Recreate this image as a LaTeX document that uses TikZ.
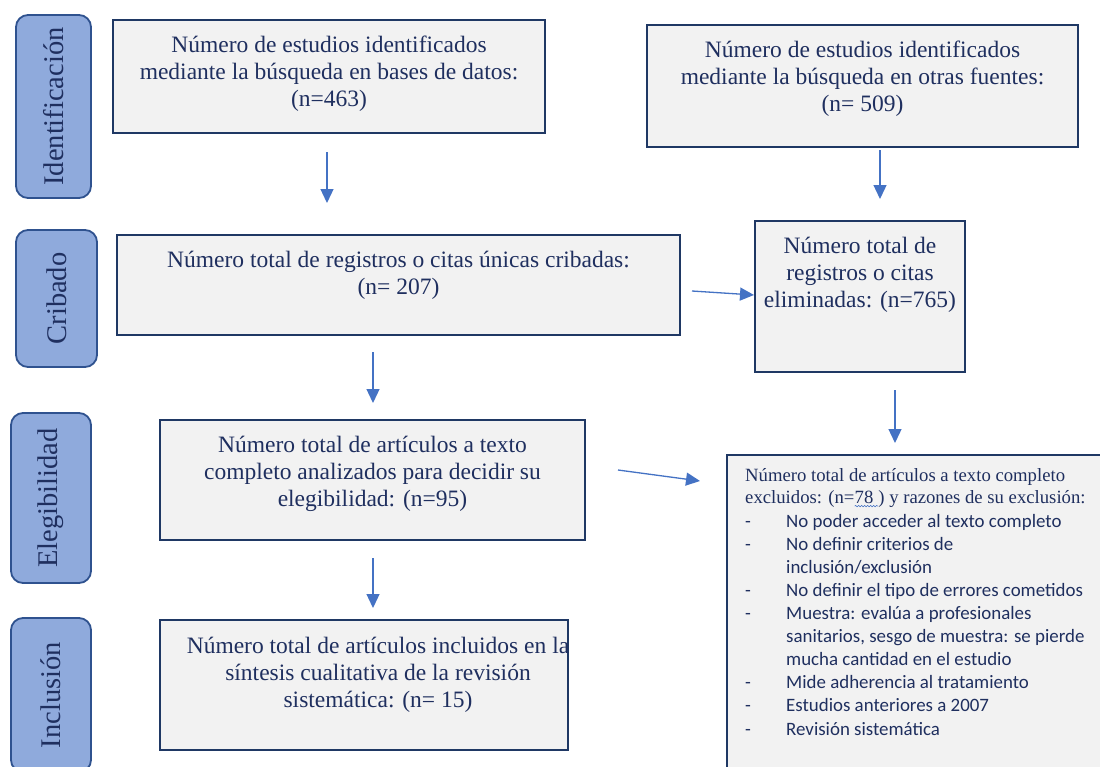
\documentclass[tikz,border=0pt]{standalone}
\usepackage{fontspec}
\setmainfont{Liberation Serif}
\newfontfamily\calibrifont{Carlito}
\usetikzlibrary{arrows.meta,decorations.pathmorphing}
\definecolor{sidefill}{HTML}{8FAADC}
\definecolor{sideline}{HTML}{2F528F}
\definecolor{boxfill}{HTML}{F2F2F2}
\definecolor{boxline}{HTML}{1F3864}
\definecolor{txtc}{HTML}{1F2F5F}
\definecolor{arrowc}{HTML}{4472C4}
\newcommand\squig[1]{\tikz[baseline=(sqn.base)]{\node[inner sep=0pt,outer sep=0pt](sqn){#1};\draw[arrowc,line width=0.6pt,decorate,decoration={snake,amplitude=0.7pt,segment length=3pt}]([yshift=-2.2pt]sqn.south west)--([yshift=-2.2pt]sqn.south east);}}
\begin{document}
\begin{tikzpicture}[x=1pt,y=-1pt,
  side/.style={draw=sideline, fill=sidefill, line width=1.8pt, rounded corners=12pt, rotate=90,
    text=txtc, font=\fontsize{28.5}{31}\selectfont, inner sep=0pt},
  box/.style={draw=boxline, fill=boxfill, line width=2.7pt, inner sep=0pt},
  btext/.style={align=center, text=txtc, font=\fontsize{23.5}{27}\selectfont, inner sep=0pt, anchor=north},
  arr/.style={draw=arrowc, line width=1.3pt, -{Triangle[length=14pt,width=13pt]}}]
\useasboundingbox (0,0) rectangle (1100,766);
\clip (0,0) rectangle (1100,766);
\fill[white] (0,0) rectangle (1100,766);

% phase sidebars
\node[side, minimum width=183pt, minimum height=75pt] (s1) at (53.5,106.5) {Identificación};
\node[side, minimum width=137pt, minimum height=81pt] (s2) at (56.5,298.5) {Cribado};
\node[side, minimum width=170pt, minimum height=80pt] (s3) at (51,498) {Elegibilidad};
\node[side, minimum width=154pt, minimum height=80pt] (s4) at (51,695) {Inclusión};

% boxes
\node[box, minimum width=432pt, minimum height=113pt] (b1) at (329,76.5) {};
\node[box, minimum width=431pt, minimum height=122pt] (b2) at (862.5,86) {};
\node[box, minimum width=563pt, minimum height=100pt] (b3) at (398.5,285) {};
\node[box, minimum width=210pt, minimum height=151pt] (b4) at (860,296.5) {};
\node[box, minimum width=425pt, minimum height=120pt] (b5) at (372.5,480) {};
\node[box, minimum width=388pt, minimum height=330pt] (b6) at (921,620) {};
\node[box, minimum width=408pt, minimum height=130pt] (b7) at (364,685) {};

% box texts
\node[btext] (t1) at ([yshift=-17pt]b1.north) {Número de estudios identificados\\mediante la búsqueda en bases de datos:\\(n=463)};
\node[btext] (t2) at ([yshift=-17pt]b2.north) {Número de estudios identificados\\mediante la búsqueda en otras fuentes:\\(n= 509)};
\node[btext] (t3) at ([yshift=-17pt]b3.north) {Número total de registros o citas únicas cribadas:\\(n= 207)};
\node[btext] (t4) at ([yshift=-17pt]b4.north) {Número total de\\registros o citas\\eliminadas: (n=765)};
\node[btext] (t5) at ([yshift=-17pt]b5.north) {Número total de artículos a texto\\completo analizados para decidir su\\elegibilidad: (n=95)};
\node[btext] (t7) at (378,637) {Número total de artículos incluidos en la\\síntesis cualitativa de la revisión\\sistemática: (n= 15)};

\node[anchor=north west, align=left, text=txtc, inner sep=0pt, font=\fontsize{18.7}{22.5}\selectfont] (t6a) at (745,468)
  {Número total de artículos a texto completo\\excluidos: (n=\squig{78 }) y razones de su exclusión:};
\node[anchor=north west, align=left, text=txtc, inner sep=0pt, font=\calibrifont\fontsize{18.9}{23}\selectfont] (t6b) at (745,514)
  {\makebox[41pt][l]{-}No poder acceder al texto completo\\
   \makebox[41pt][l]{-}No definir criterios de\\
   \hspace*{41pt}inclusión/exclusión\\
   \makebox[41pt][l]{-}No definir el tipo de errores cometidos\\
   \makebox[41pt][l]{-}Muestra: evalúa a profesionales\\
   \hspace*{41pt}sanitarios, sesgo de muestra: se pierde\\
   \hspace*{41pt}mucha cantidad en el estudio\\
   \makebox[41pt][l]{-}Mide adherencia al tratamiento\\
   \makebox[41pt][l]{-}Estudios anteriores a 2007\\[1pt]
   \makebox[41pt][l]{-}Revisión sistemática};

% arrows
\coordinate (a1s) at (327,152); \coordinate (a1e) at (327,203);
\coordinate (a2s) at (880,150); \coordinate (a2e) at (880,199);
\coordinate (a3s) at (373,352); \coordinate (a3e) at (373,403);
\coordinate (a4s) at (895,390); \coordinate (a4e) at (895,443);
\coordinate (a5s) at (373,558); \coordinate (a5e) at (373,608);
\coordinate (h1s) at (692,291); \coordinate (h1e) at (754,295);
\coordinate (h2s) at (618,470); \coordinate (h2e) at (700,481);
\draw[arr] (a1s) -- (a1e);
\draw[arr] (a2s) -- (a2e);
\draw[arr] (a3s) -- (a3e);
\draw[arr] (a4s) -- (a4e);
\draw[arr] (a5s) -- (a5e);
\draw[arr] (h1s) -- (h1e);
\draw[arr] (h2s) -- (h2e);
\end{tikzpicture}
\end{document}
